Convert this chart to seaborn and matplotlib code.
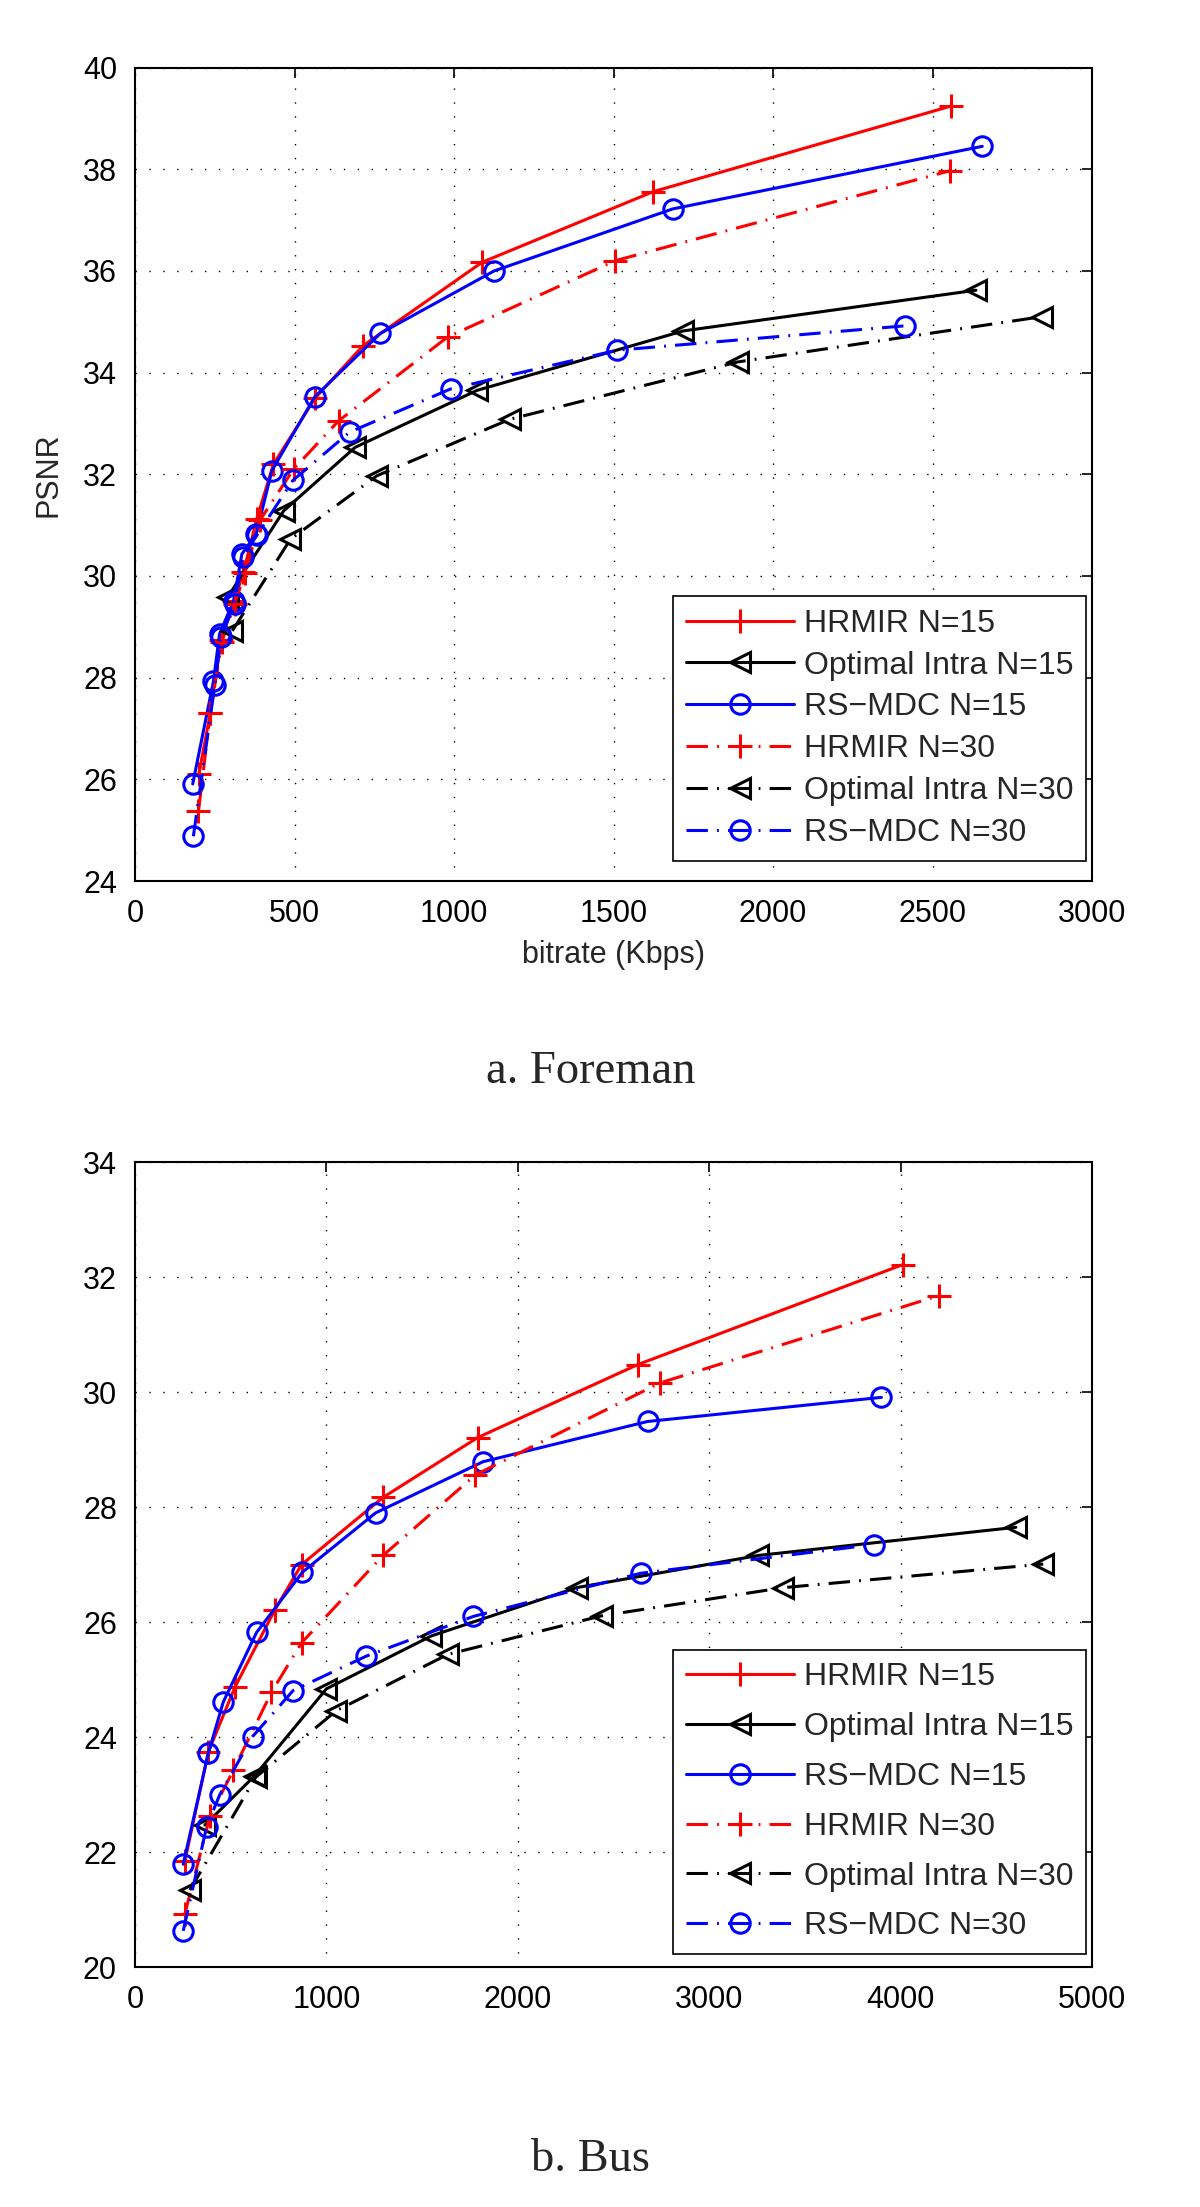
import numpy as np
import pandas as pd
import matplotlib
matplotlib.use("Agg")
import matplotlib.pyplot as plt
import seaborn as sns

# ---- Foreman (top) ----
fm_hrmir15_x = [200, 236, 270, 310, 340, 382, 434, 565, 715, 1088, 1625, 2557]
fm_hrmir15_y = [26.1, 27.3, 28.75, 29.5, 30.07, 31.13, 32.2, 33.5, 34.53, 36.17, 37.56, 39.24]
fm_intra15_x = [290, 466, 690, 1072, 1719, 2636]
fm_intra15_y = [29.58, 31.28, 32.53, 33.65, 34.82, 35.62]
fm_rsmdc15_x = [181, 246, 265, 309, 335, 380, 429, 563, 769, 1126, 1686, 2656]
fm_rsmdc15_y = [25.91, 27.93, 28.86, 29.51, 30.43, 30.83, 32.07, 33.52, 34.77, 36.0, 37.22, 38.45]
fm_hrmir30_x = [199, 236, 272, 312, 345, 392, 497, 638, 980, 1505, 2555]
fm_hrmir30_y = [25.37, 27.3, 28.7, 29.45, 30.05, 31.1, 32.1, 33.05, 34.7, 36.2, 37.97]
fm_intra30_x = [305, 487, 758, 1174, 1890, 2843]
fm_intra30_y = [28.92, 30.72, 31.97, 33.08, 34.21, 35.10]
fm_rsmdc30_x = [183, 250, 270, 312, 338, 382, 495, 673, 990, 1511, 2414]
fm_rsmdc30_y = [24.88, 27.85, 28.8, 29.45, 30.38, 30.8, 31.88, 32.83, 33.68, 34.44, 34.92]

# ---- Bus (bottom) ----
bus_hrmir15_x = [261, 383, 522, 730, 870, 1296, 1790, 2627, 4012]
bus_hrmir15_y = [21.85, 23.74, 24.87, 26.21, 27.0, 28.17, 29.21, 30.48, 32.22]
bus_intra15_x = [365, 626, 1000, 1548, 2307, 3257, 4602]
bus_intra15_y = [22.47, 23.33, 24.84, 25.76, 26.6, 27.16, 27.65]
bus_rsmdc15_x = [252, 383, 461, 635, 875, 1257, 1818, 2678, 3900]
bus_rsmdc15_y = [21.79, 23.72, 24.61, 25.82, 26.87, 27.9, 28.79, 29.49, 29.91]
bus_hrmir30_x = [261, 391, 513, 713, 870, 1296, 1778, 2742, 4200]
bus_hrmir30_y = [20.93, 22.62, 23.42, 24.78, 25.64, 27.16, 28.56, 30.16, 31.68]
bus_intra30_x = [287, 630, 1052, 1635, 2438, 3387, 4745]
bus_intra30_y = [21.34, 23.3, 24.46, 25.44, 26.11, 26.6, 27.01]
bus_rsmdc30_x = [252, 374, 443, 614, 826, 1209, 1768, 2642, 3862]
bus_rsmdc30_y = [20.63, 22.44, 23.0, 24.01, 24.81, 25.41, 26.1, 26.85, 27.35]

labels = ["HRMIR N=15", "Optimal Intra N=15", "RS\u2212MDC N=15",
          "HRMIR N=30", "Optimal Intra N=30", "RS\u2212MDC N=30"]
colors = ["#ff0000", "#000000", "#0000ff", "#ff0000", "#000000", "#0000ff"]
markers = ["+", "<", "o", "+", "<", "o"]
dashdot = (0, (7, 3, 0.6, 3))
styles = ["-", "-", "-", dashdot, dashdot, dashdot]

sns.set_theme(style="white")
plt.rcParams["font.family"] = ["Liberation Sans", "DejaVu Sans"]

fig = plt.figure(figsize=(12, 22.07), dpi=100)
ax1 = fig.add_axes([0.1125, 0.6008, 0.7975, 0.3686])
ax2 = fig.add_axes([0.1125, 0.1087, 0.7975, 0.3647])

foreman = [(fm_hrmir15_x, fm_hrmir15_y), (fm_intra15_x, fm_intra15_y), (fm_rsmdc15_x, fm_rsmdc15_y),
           (fm_hrmir30_x, fm_hrmir30_y), (fm_intra30_x, fm_intra30_y), (fm_rsmdc30_x, fm_rsmdc30_y)]
bus = [(bus_hrmir15_x, bus_hrmir15_y), (bus_intra15_x, bus_intra15_y), (bus_rsmdc15_x, bus_rsmdc15_y),
       (bus_hrmir30_x, bus_hrmir30_y), (bus_intra30_x, bus_intra30_y), (bus_rsmdc30_x, bus_rsmdc30_y)]


def draw(ax, series):
    for i, (xs, ys) in enumerate(series):
        ms = 17 if markers[i] == "+" else 14
        sns.lineplot(x=xs, y=ys, ax=ax, color=colors[i], marker=markers[i],
                     linestyle=styles[i], linewidth=2.2, markersize=ms,
                     markerfacecolor="none", markeredgecolor=colors[i],
                     markeredgewidth=2.2, estimator=None, sort=False, label=labels[i])
    ax.grid(True, color="black", linestyle=(0, (1, 9)), linewidth=1.0)
    ax.tick_params(direction="in", length=7, width=1.2, top=True, right=True,
                   labelsize=22, pad=13, colors="black")
    for sp in ax.spines.values():
        sp.set_color("black")
        sp.set_linewidth(1.5)


draw(ax1, foreman)
ax1.set_xlim(0, 3000)
ax1.set_ylim(24, 40)
ax1.set_xticks(np.arange(0, 3001, 500))
ax1.set_yticks(np.arange(24, 41, 2))
ax1.set_xlabel("bitrate (Kbps)", fontsize=22, labelpad=8)
ax1.set_ylabel("PSNR", fontsize=22, labelpad=14)

draw(ax2, bus)
ax2.set_xlim(0, 5000)
ax2.set_ylim(20, 34)
ax2.set_xticks(np.arange(0, 5001, 1000))
ax2.set_yticks(np.arange(20, 35, 2))

for ax, y0, sp in [(ax1, 0.025, 0.37), (ax2, 0.016, 0.62)]:
    leg = ax.legend(loc="lower right", bbox_to_anchor=(0.994, y0), borderaxespad=0,
                    fontsize=23, frameon=True, fancybox=False, framealpha=1,
                    edgecolor="black", handlelength=3.4, handletextpad=0.3,
                    labelspacing=sp, borderpad=0.4)
    leg.get_frame().set_linewidth(1.2)

fig.text(0.492, 1 - 1072 / 2207, "a. Foreman", ha="center", va="center",
         fontsize=33.5, family="Liberation Serif")
fig.text(0.492, 1 - 2160 / 2207, "b. Bus", ha="center", va="center",
         fontsize=33.5, family="Liberation Serif")

fig.savefig("out.png", dpi=100, facecolor="white")
